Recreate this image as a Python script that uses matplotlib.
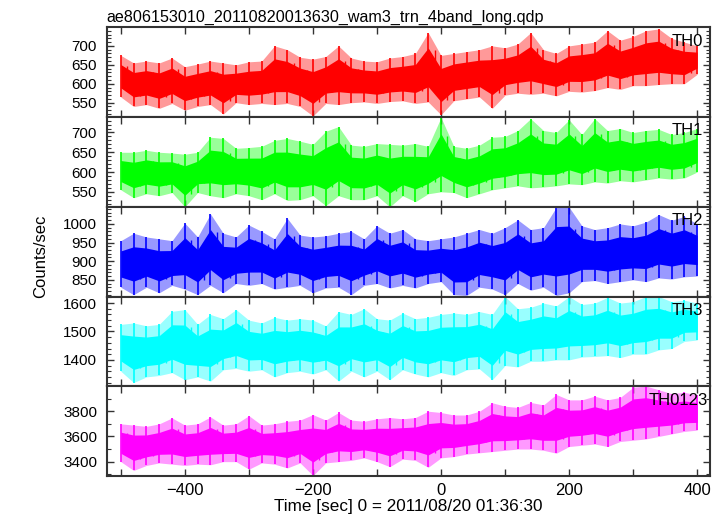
import numpy as np
import matplotlib
matplotlib.use("Agg")
import matplotlib.pyplot as plt
from matplotlib.ticker import MultipleLocator, FuncFormatter

plt.rcParams['font.family'] = ['Liberation Sans', 'DejaVu Sans']

# sample times (sec), every 20 s
times = list(range(-500, 401, 20))

# upper / lower envelopes (counts/sec)
th0_hi = [675, 655, 660, 655, 668, 645, 652, 660, 655, 650, 658, 660, 700, 690, 670, 665,
          672, 700, 668, 660, 658, 668, 672, 680, 735, 675, 680, 685, 690, 700, 695, 705,
          735, 690, 680, 700, 705, 710, 740, 715, 725, 740, 745, 720, 710, 700]
th0_lo = [565, 540, 545, 535, 548, 530, 540, 545, 520, 550, 545, 548, 545, 548, 540, 515,
          548, 545, 550, 552, 548, 553, 555, 548, 552, 518, 555, 560, 565, 535, 570, 575,
          572, 575, 568, 580, 578, 582, 590, 585, 595, 595, 598, 600, 600, 625]

th1_hi = [650, 650, 655, 650, 648, 645, 650, 688, 685, 660, 662, 665, 680, 685, 678, 670,
          703, 715, 668, 665, 672, 670, 668, 672, 665, 738, 665, 660, 668, 688, 690, 705,
          735, 705, 700, 732, 695, 735, 705, 710, 700, 705, 708, 695, 700, 710]
th1_lo = [555, 535, 545, 540, 548, 512, 548, 540, 535, 545, 540, 530, 545, 528, 530, 540,
          515, 540, 530, 530, 540, 512, 540, 525, 545, 550, 548, 535, 545, 555, 560, 565,
          560, 562, 565, 570, 568, 575, 572, 578, 575, 580, 585, 582, 585, 600]

th2_hi = [955, 975, 965, 960, 955, 1002, 965, 1027, 975, 965, 997, 980, 960, 1015, 970, 965,
          968, 975, 980, 960, 995, 975, 985, 960, 955, 960, 965, 975, 985, 975, 990, 1011,
          985, 990, 1045, 1045, 995, 985, 990, 1000, 995, 1005, 1025, 1010, 1020, 1000]
th2_lo = [830, 810, 830, 815, 835, 825, 810, 835, 815, 840, 835, 840, 825, 830, 835, 815,
          828, 830, 810, 835, 840, 828, 835, 828, 840, 845, 810, 808, 830, 825, 810, 840,
          822, 830, 808, 815, 845, 848, 840, 845, 850, 845, 855, 852, 858, 860]

th3_hi = [1525, 1530, 1520, 1525, 1571, 1577, 1525, 1560, 1545, 1577, 1540, 1530, 1550, 1540,
          1545, 1540, 1520, 1570, 1560, 1580, 1545, 1540, 1565, 1545, 1550, 1560, 1565, 1560,
          1570, 1560, 1623, 1580, 1585, 1600, 1590, 1623, 1595, 1600, 1620, 1600, 1605, 1623,
          1623, 1605, 1610, 1600]
th3_lo = [1360, 1320, 1340, 1345, 1355, 1330, 1340, 1325, 1365, 1370, 1360, 1365, 1340, 1355,
          1360, 1350, 1365, 1325, 1360, 1340, 1360, 1330, 1365, 1350, 1340, 1355, 1345, 1365,
          1368, 1330, 1380, 1375, 1395, 1395, 1400, 1400, 1410, 1412, 1415, 1408, 1420, 1420,
          1435, 1440, 1465, 1470]

tha_hi = [3700, 3690, 3680, 3700, 3747, 3690, 3700, 3755, 3690, 3700, 3765, 3690, 3700, 3720,
          3730, 3773, 3730, 3790, 3730, 3720, 3740, 3750, 3740, 3750, 3800, 3790, 3770, 3770,
          3800, 3867, 3840, 3830, 3870, 3850, 3933, 3890, 3890, 3920, 3890, 3910, 3990, 4000,
          3970, 3940, 3950, 3930]
tha_lo = [3400, 3330, 3370, 3390, 3380, 3370, 3380, 3375, 3400, 3400, 3340, 3390, 3380, 3350,
          3390, 3290, 3390, 3400, 3410, 3430, 3400, 3360, 3420, 3410, 3355, 3430, 3440, 3460,
          3470, 3480, 3490, 3500, 3500, 3490, 3467, 3520, 3530, 3540, 3520, 3560, 3570, 3580,
          3600, 3620, 3640, 3650]

bands = ['TH0', 'TH1', 'TH2', 'TH3', 'TH0123']
his = [th0_hi, th1_hi, th2_hi, th3_hi, tha_hi]
los = [th0_lo, th1_lo, th2_lo, th3_lo, tha_lo]
colors = ['#ff0000', '#00ff00', '#0000ff', '#00ffff', '#ff00ff']
ylims = [(512, 749), (512, 739), (805, 1046), (1307, 1623), (3286, 3998)]
ymajor = [50, 50, 50, 100, 200]
yminor = [10, 10, 10, 20, 100]
label_x = [0.988, 0.988, 0.988, 0.988, 0.997]

fig = plt.figure(figsize=(7.23, 5.16), dpi=100)
axes = fig.subplots(5, 1, sharex=True, gridspec_kw=dict(hspace=0))
fig.subplots_adjust(left=0.1476, right=0.982, top=0.947, bottom=0.0775)

t = np.array(times, dtype=float)
for ax, name, hi, lo, c, yl, ymj, ymn, lx in zip(axes, bands, his, los, colors, ylims,
                                                 ymajor, yminor, label_x):
    hi = np.array(hi, dtype=float)
    lo = np.array(lo, dtype=float)
    mid = (hi + lo) / 2
    half = 0.28 * (hi - lo)
    # light error-bar shading, solid core, then vertical spikes
    ax.fill_between(t, lo, hi, color=c, alpha=0.4, lw=0)
    ax.fill_between(t, mid - half, mid + half, color=c, lw=0)
    ax.vlines(t, lo, hi, color=c, lw=1.2)
    ax.vlines(t[:-1] + 10, ((lo + mid) / 2)[:-1], ((hi + mid) / 2)[:-1], color=c, lw=1.0)

    ax.set_ylim(*yl)
    ax.yaxis.set_major_locator(MultipleLocator(ymj))
    ax.yaxis.set_minor_locator(MultipleLocator(ymn))
    ax.text(lx, 0.93, name, transform=ax.transAxes, ha='right', va='top', fontsize=12)
    ax.tick_params(which='both', direction='in', top=True, right=True, labelsize=11,
                   color='#333333')
    ax.tick_params(which='major', length=5, width=1, pad=7)
    ax.tick_params(which='minor', length=3, width=0.8)
    for sp in ax.spines.values():
        sp.set_linewidth(1.5)
        sp.set_color('#333333')

axes[-1].set_xlim(-522, 420)
axes[-1].xaxis.set_major_locator(MultipleLocator(100))
axes[-1].xaxis.set_major_formatter(
    FuncFormatter(lambda v, p: '' if int(round(v)) % 200 else '\u2212%d' % -v if v < 0 else '%d' % v))
axes[-1].tick_params(axis='x', pad=5, labelsize=12)

axes[0].set_title('ae806153010_20110820013630_wam3_trn_4band_long.qdp', loc='left',
                  fontsize=11.6, pad=4)
fig.text(0.056, 1 - 256 / 516, 'Counts/sec', rotation=90, ha='center', va='center', fontsize=12)
axes[-1].set_xlabel('Time [sec] 0 = 2011/08/20 01:36:30', fontsize=12.3, labelpad=1)

fig.savefig('out.png', dpi=100)
